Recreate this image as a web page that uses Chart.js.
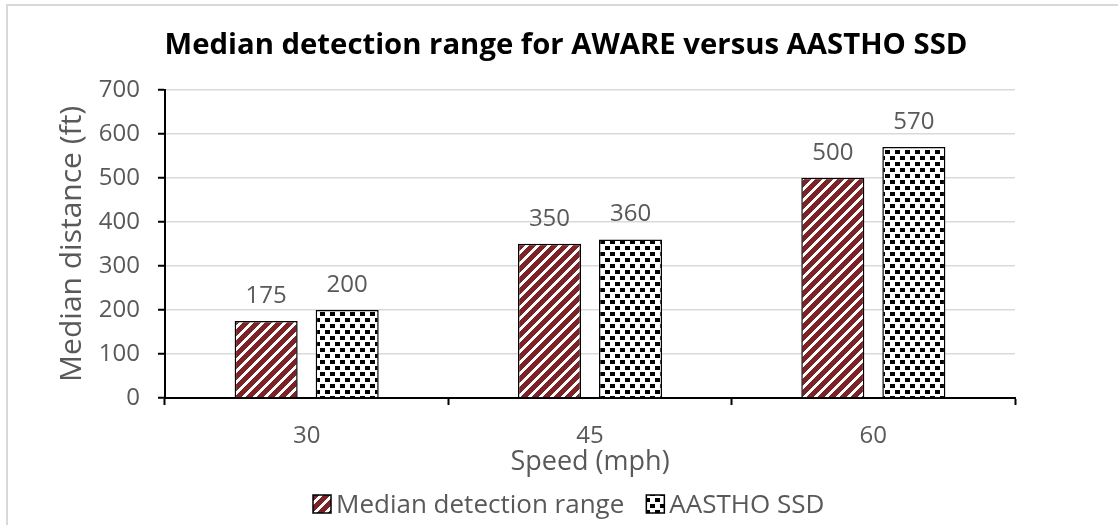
<!DOCTYPE html>
<html>
<head>
<meta charset="utf-8">
<script src="https://cdn.jsdelivr.net/npm/chart.js@4.4.1/dist/chart.umd.min.js"></script>
<style>
  html, body { margin: 0; padding: 0; background: #fff; overflow: hidden; }
  #wrap { position: relative; width: 1118px; height: 525px; }
</style>
</head>
<body>
<div id="wrap"><canvas id="c"></canvas></div>
<script>
const categories = ['30', '45', '60'];
const seriesNames = ['Median detection range', 'AASTHO SSD'];
const medianRange = [175, 350, 500];
const aasthoSSD = [200, 360, 570];
const yTicks = [0, 100, 200, 300, 400, 500, 600, 700];
const chartTitle = 'Median detection range for AWARE versus AASTHO SSD';
const xTitle = 'Speed (mph)';
const yTitle = 'Median distance (ft)';

function stripePattern() {
  const n = 11;
  const c = document.createElement('canvas');
  c.width = n; c.height = n;
  const g = c.getContext('2d');
  for (let x = 0; x < n; x++) {
    for (let y = 0; y < n; y++) {
      g.fillStyle = ((x + y) % n) < 4 ? '#ffffff' : '#7b2327';
      g.fillRect(x, y, 1, 1);
    }
  }
  return g.createPattern(c, 'repeat');
}
function dotPattern() {
  const c = document.createElement('canvas');
  c.width = 10; c.height = 12;
  const g = c.getContext('2d');
  g.fillStyle = '#ffffff';
  g.fillRect(0, 0, 10, 12);
  g.fillStyle = '#000000';
  g.fillRect(0, 0, 5, 4);
  g.fillRect(5, 6, 5, 4);
  return g.createPattern(c, 'repeat');
}

const FONT = "'Open Sans', 'Noto Sans', sans-serif";
const GRAY = '#595959';

const frame = {
  id: 'frame',
  beforeDraw(chart) {
    const ctx = chart.ctx;
    ctx.save();
    ctx.fillStyle = '#ffffff';
    ctx.fillRect(0, 0, chart.width, chart.height);
    ctx.strokeStyle = '#d9d9d9';
    ctx.lineWidth = 2;
    ctx.beginPath();
    ctx.moveTo(7, chart.height);
    ctx.lineTo(7, 5);
    ctx.lineTo(chart.width, 5);
    ctx.stroke();
    ctx.restore();
  }
};

const valueLabels = {
  id: 'valueLabels',
  afterDatasetsDraw(chart) {
    const ctx = chart.ctx;
    ctx.save();
    ctx.font = "24px " + FONT;
    ctx.fillStyle = GRAY;
    ctx.textAlign = 'center';
    ctx.textBaseline = 'alphabetic';
    chart.data.datasets.forEach((ds, i) => {
      chart.getDatasetMeta(i).data.forEach((bar, j) => {
        ctx.fillText(String(ds.data[j]), bar.x, bar.y - 18);
      });
    });
    ctx.restore();
  }
};

// Legend drawn from the chart's datasets (label + fill pattern)
const bottomLegend = {
  id: 'bottomLegend',
  afterDraw(chart) {
    const ctx = chart.ctx;
    const box = 18, textGap = 5, itemGap = 22;
    const boxTop = 495, baseline = 513;
    let x = 313;
    ctx.save();
    ctx.font = "26px " + FONT;
    ctx.textBaseline = 'alphabetic';
    ctx.textAlign = 'left';
    chart.data.datasets.forEach((ds) => {
      ctx.fillStyle = ds.backgroundColor;
      ctx.fillRect(x, boxTop, box, box);
      ctx.strokeStyle = '#000';
      ctx.lineWidth = 1.5;
      ctx.strokeRect(x, boxTop, box, box);
      x += box + textGap;
      ctx.fillStyle = GRAY;
      ctx.fillText(ds.label, x, baseline);
      x += ctx.measureText(ds.label).width + itemGap;
    });
    ctx.restore();
  }
};

new Chart(document.getElementById('c'), {
  type: 'bar',
  data: {
    labels: categories,
    datasets: [
      { label: seriesNames[0], data: medianRange, backgroundColor: stripePattern(), borderColor: '#000', borderWidth: 1.5 },
      { label: seriesNames[1], data: aasthoSSD, backgroundColor: dotPattern(), borderColor: '#000', borderWidth: 1.5 }
    ]
  },
  plugins: [frame, valueLabels, bottomLegend],
  options: {
    responsive: true,
    maintainAspectRatio: false,
    animation: false,
    categoryPercentage: 0.572,
    barPercentage: 0.778,
    layout: { padding: { left: 14, right: 0, top: 0, bottom: 40 } },
    plugins: {
      tooltip: { enabled: false },
      legend: { display: false },
      title: {
        display: true,
        text: chartTitle,
        color: '#000',
        font: { family: FONT, size: 29.3, weight: 'bold', lineHeight: 1.2 },
        padding: { top: 28, bottom: 26.5 }
      }
    },
    scales: {
      x: {
        offset: true,
        afterFit(scale) { scale.height = 87; },
        grid: { offset: true, drawOnChartArea: false, drawTicks: true, tickLength: 7, tickColor: '#000', tickWidth: 2 },
        border: { color: '#000', width: 2 },
        ticks: { color: GRAY, font: { family: FONT, size: 24 }, padding: 17 },
        title: { display: true, text: xTitle, color: GRAY, font: { family: FONT, size: 27, lineHeight: 1.0 }, padding: { top: 0, bottom: 9.5 } }
      },
      y: {
        min: 0,
        max: 700,
        afterBuildTicks(scale) { scale.ticks = yTicks.map(v => ({ value: v })); },
        afterFit(scale) { scale.width = 151; },
        grid: { color: '#d9d9d9', lineWidth: 1.5, drawTicks: true, tickLength: 7, tickColor: '#000', tickWidth: 2 },
        border: { color: '#000', width: 2 },
        ticks: { color: GRAY, font: { family: FONT, size: 24 }, padding: 18 },
        title: { display: true, text: yTitle, color: GRAY, font: { family: FONT, size: 30, lineHeight: 1.2 }, padding: { top: 40, bottom: 0 } }
      },
      yRight: {
        position: 'right',
        min: 0,
        max: 700,
        afterFit(scale) { scale.width = 103; },
        grid: { display: false, drawOnChartArea: false, drawTicks: false },
        border: { display: false },
        ticks: { display: false },
        title: { display: false }
      }
    }
  }
});
</script>
</body>
</html>
